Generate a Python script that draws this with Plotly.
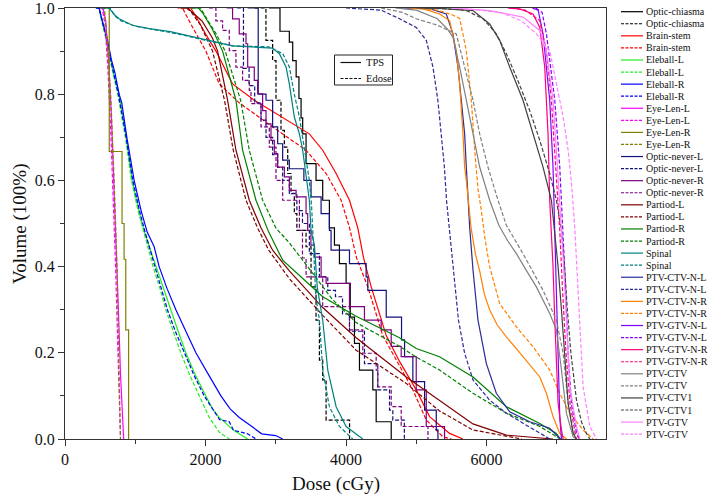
import plotly.graph_objects as go

# ---------------- data (dose in cGy, volume fraction) ----------------
names = ["Optic-chiasma", "Brain-stem", "Eleball-L", "Eleball-R", "Eye-Len-L", "Eye-Len-R",
         "Optic-never-L", "Optic-never-R", "Partiod-L", "Partiod-R", "Spinal",
         "PTV-CTV-N-L", "PTV-CTV-N-R", "PTV-GTV-N-L", "PTV-GTV-N-R", "PTV-CTV", "PTV-CTV1", "PTV-GTV"]
colors = ["#000000", "#ff0000", "#22ee22", "#0000ff", "#ff00ff", "#808000",
          "#10107a", "#800080", "#800000", "#008000", "#008080",
          "#2a2a9a", "#ff8000", "#8000ff", "#ff0080", "#808080", "#404040", "#ff80ff"]
# structures whose TPS/Edose curves are drawn as staircases
tps_steps = ["Optic-chiasma", "Optic-never-L", "Optic-never-R", "Eye-Len-R"]
edose_steps = ["Optic-chiasma", "Optic-never-L", "Optic-never-R"]

chiasma_tps_x = [2900, 3060, 3193, 3241, 3290, 3330, 3360, 3383, 3431, 3573, 3668, 3763, 3835, 3906, 4001, 4060, 4120, 4191, 4381, 4429, 4643]
chiasma_tps_y = [1.0, 0.946, 0.921, 0.878, 0.840, 0.79, 0.745, 0.708, 0.639, 0.600, 0.554, 0.49, 0.45, 0.407, 0.361, 0.283, 0.222, 0.160, 0.114, 0.040, 0.0]
chiasma_ed_x = [2700, 2860, 2955, 3003, 3074, 3122, 3170, 3217, 3264, 3300, 3431, 3502, 3573, 3621, 3668, 3716, 4050]
chiasma_ed_y = [1.0, 0.925, 0.878, 0.786, 0.716, 0.677, 0.616, 0.569, 0.523, 0.484, 0.446, 0.353, 0.276, 0.183, 0.137, 0.044, 0.0]

brain_tps_x = [1700, 1790, 1900, 2000, 2148, 2385, 2694, 3003, 3478, 3668, 3859, 4049, 4167, 4250, 4358, 4572, 4761, 4999, 5189, 5474, 5664]
brain_tps_y = [1.0, 1.0, 0.97, 0.94, 0.90, 0.824, 0.786, 0.755, 0.708, 0.67, 0.616, 0.554, 0.49, 0.42, 0.353, 0.24, 0.18, 0.114, 0.052, 0.013, 0.0]
brain_ed_x = [1600, 1672, 1800, 2005, 2195, 2480, 2955, 3431, 3716, 3930, 4050, 4150, 4310, 4523, 4951, 5142, 5379, 5500]
brain_ed_y = [1.0, 1.0, 0.96, 0.90, 0.824, 0.78, 0.724, 0.67, 0.616, 0.554, 0.49, 0.42, 0.353, 0.24, 0.114, 0.044, 0.005, 0.0]

eyeL_tps_x = [440, 485, 530, 590, 650, 700, 770, 870, 955, 1050, 1130, 1293, 1400, 1507, 1610, 1720, 1850, 2005, 2100, 2195, 2400, 2600]
eyeL_tps_y = [1.0, 1.0, 0.97, 0.93, 0.88, 0.84, 0.80, 0.70, 0.60, 0.53, 0.48, 0.40, 0.35, 0.30, 0.25, 0.20, 0.15, 0.10, 0.07, 0.05, 0.02, 0.0]
eyeL_ed_x = [440, 485, 520, 580, 640, 690, 750, 860, 945, 1040, 1120, 1254, 1350, 1435, 1540, 1649, 1770, 1910, 2000, 2053, 2200, 2338]
eyeL_ed_y = [1.0, 1.0, 0.97, 0.93, 0.88, 0.84, 0.80, 0.70, 0.60, 0.53, 0.48, 0.40, 0.35, 0.30, 0.25, 0.20, 0.15, 0.10, 0.07, 0.05, 0.015, 0.0]

eyeR_tps_x = [440, 485, 530, 600, 660, 710, 770, 808, 880, 984, 1083, 1170, 1269, 1340, 1450, 1578, 1720, 1863, 2040, 2219, 2350, 2480, 2650, 2800, 3000, 3098]
eyeR_tps_y = [1.0, 1.0, 0.97, 0.93, 0.88, 0.85, 0.80, 0.78, 0.70, 0.60, 0.53, 0.48, 0.446, 0.40, 0.35, 0.30, 0.25, 0.20, 0.15, 0.10, 0.07, 0.05, 0.03, 0.012, 0.008, 0.0]
eyeR_ed_x = [440, 485, 530, 590, 650, 700, 760, 870, 965, 1060, 1140, 1280, 1370, 1458, 1570, 1696, 1830, 1981, 2100, 2200, 2338, 2400, 2600, 2718]
eyeR_ed_y = [1.0, 1.0, 0.97, 0.93, 0.88, 0.84, 0.80, 0.70, 0.60, 0.53, 0.48, 0.40, 0.35, 0.30, 0.25, 0.20, 0.15, 0.10, 0.07, 0.045, 0.04, 0.02, 0.012, 0.0]

lensL_tps_x = [500, 540, 580, 620, 660, 700, 735, 760, 790, 815, 835]
lensL_tps_y = [1.0, 1.0, 0.97, 0.88, 0.75, 0.58, 0.45, 0.30, 0.15, 0.05, 0.0]
lensL_ed_x = [500, 530, 570, 610, 650, 690, 720, 745, 770, 790]
lensL_ed_y = [1.0, 1.0, 0.96, 0.86, 0.72, 0.55, 0.40, 0.25, 0.10, 0.0]

lensR_tps_x = [500, 630, 812, 841, 865, 905]
lensR_tps_y = [1.0, 0.667, 0.5, 0.417, 0.253, 0.0]
lensR_ed_x = [520, 560, 600, 650, 700, 740, 770, 790]
lensR_ed_y = [1.0, 1.0, 0.92, 0.80, 0.60, 0.40, 0.15, 0.0]

nerveL_tps_x = [2600, 2750, 2861, 2955, 3027, 3098, 3193, 3400, 3502, 3645, 3763, 3787, 4049, 4286, 4310, 4572, 4790, 4833, 4951, 5118, 5284, 5308]
nerveL_tps_y = [1.0, 0.80, 0.786, 0.724, 0.685, 0.647, 0.627, 0.600, 0.562, 0.523, 0.484, 0.438, 0.407, 0.376, 0.345, 0.283, 0.23, 0.191, 0.133, 0.067, 0.021, 0.0]
nerveL_ed_x = [2450, 2540, 2620, 2700, 2790, 2861, 2955, 3027, 3098, 3193, 3300, 3380, 3478, 3621, 3740, 3850, 3950, 4049, 4262, 4452, 4619, 4666, 4830]
nerveL_ed_y = [1.0, 0.86, 0.82, 0.78, 0.74, 0.70, 0.66, 0.63, 0.60, 0.57, 0.53, 0.50, 0.43, 0.376, 0.345, 0.33, 0.29, 0.25, 0.175, 0.114, 0.067, 0.044, 0.0]

nerveR_tps_x = [2300, 2385, 2480, 2576, 2600, 2694, 2742, 2813, 2861, 2932, 2979, 3027, 3122, 3193, 3289, 3431, 3454, 3500, 3550, 3645, 3716, 4049, 4262, 4500, 4643, 4785, 4999, 5142, 5402]
nerveR_tps_y = [1.0, 0.975, 0.94, 0.917, 0.863, 0.832, 0.801, 0.762, 0.731, 0.693, 0.662, 0.631, 0.608, 0.577, 0.562, 0.523, 0.484, 0.45, 0.422, 0.376, 0.361, 0.307, 0.276, 0.253, 0.215, 0.191, 0.114, 0.029, 0.0]
nerveR_ed_x = [2050, 2148, 2243, 2338, 2433, 2528, 2623, 2647, 2790, 2908, 3003, 3098, 3336, 3380, 3431, 3668, 4049, 4238, 4429, 4452, 4643, 4785, 5166]
nerveR_ed_y = [1.0, 0.97, 0.948, 0.901, 0.863, 0.832, 0.809, 0.778, 0.724, 0.677, 0.60, 0.554, 0.484, 0.42, 0.376, 0.307, 0.253, 0.199, 0.160, 0.121, 0.075, 0.029, 0.0]

parL_tps_x = [1650, 1750, 1810, 1950, 2100, 2172, 2314, 2433, 2623, 2789, 2955, 3193, 3668, 4144, 4857, 5331, 5806, 6282, 6946]
parL_tps_y = [1.0, 1.0, 0.99, 0.97, 0.93, 0.90, 0.786, 0.67, 0.554, 0.49, 0.438, 0.39, 0.305, 0.235, 0.144, 0.09, 0.035, 0.009, 0.0]
parL_ed_x = [1650, 1730, 1800, 1930, 2100, 2270, 2395, 2576, 2740, 2900, 3193, 3668, 4144, 4857, 5331, 5806, 6500]
parL_ed_y = [1.0, 1.0, 0.99, 0.96, 0.90, 0.786, 0.67, 0.554, 0.49, 0.438, 0.372, 0.287, 0.206, 0.129, 0.065, 0.021, 0.0]

parR_tps_x = [1800, 1900, 1953, 2100, 2243, 2433, 2528, 2718, 2900, 3098, 3400, 3668, 4144, 4761, 5000, 5331, 5807, 6282, 6757, 6994, 7050]
parR_tps_y = [1.0, 1.0, 0.99, 0.95, 0.90, 0.786, 0.67, 0.554, 0.48, 0.415, 0.37, 0.33, 0.285, 0.235, 0.21, 0.191, 0.144, 0.075, 0.036, 0.013, 0.0]
parR_ed_x = [1800, 1930, 2000, 2150, 2280, 2500, 2623, 2813, 3000, 3193, 3500, 3800, 4144, 4761, 5000, 5331, 5807, 6282, 6757, 7000, 7050]
parR_ed_y = [1.0, 1.0, 0.98, 0.94, 0.90, 0.786, 0.67, 0.554, 0.49, 0.455, 0.39, 0.325, 0.27, 0.215, 0.19, 0.16, 0.106, 0.06, 0.029, 0.005, 0.0]

spinal_tps_x = [520, 627, 700, 770, 959, 1197, 1500, 1910, 2385, 2955, 3051, 3146, 3193, 3264, 3336, 3383, 3431, 3478, 3502, 3550, 3590, 3668, 3740, 3859, 4001, 4238]
spinal_tps_y = [1.0, 1.0, 0.985, 0.975, 0.96, 0.952, 0.945, 0.93, 0.912, 0.907, 0.894, 0.863, 0.824, 0.747, 0.708, 0.67, 0.616, 0.554, 0.484, 0.45, 0.353, 0.276, 0.16, 0.075, 0.029, 0.0]
spinal_ed_x = [520, 640, 720, 800, 1000, 1250, 1600, 2000, 2400, 2900, 3100, 3193, 3264, 3336, 3383, 3431, 3478, 3510, 3530, 3550, 3570, 3621, 3668, 3763, 3906, 4096]
spinal_ed_y = [1.0, 1.0, 0.98, 0.97, 0.958, 0.95, 0.94, 0.925, 0.912, 0.91, 0.894, 0.863, 0.80, 0.747, 0.70, 0.65, 0.60, 0.54, 0.48, 0.40, 0.33, 0.276, 0.16, 0.075, 0.029, 0.0]

ctvnl_tps_x = [4800, 5200, 5427, 5522, 5593, 5641, 5688, 5712, 5736, 5760, 5807, 5878, 5997, 6139, 6329, 6614, 6899, 7018, 7050]
ctvnl_tps_y = [1.0, 0.998, 0.986, 0.94, 0.863, 0.786, 0.708, 0.631, 0.554, 0.49, 0.392, 0.276, 0.175, 0.106, 0.063, 0.04, 0.025, 0.005, 0.0]
ctvnl_ed_x = [4000, 4500, 4761, 4999, 5142, 5237, 5307, 5355, 5400, 5430, 5470, 5530, 5600, 5688, 5807, 6044, 6282, 6567, 6757, 6900]
ctvnl_ed_y = [1.0, 0.995, 0.975, 0.955, 0.925, 0.863, 0.786, 0.708, 0.631, 0.554, 0.49, 0.392, 0.276, 0.199, 0.137, 0.09, 0.06, 0.032, 0.013, 0.0]

ctvnr_tps_x = [4900, 5100, 5331, 5474, 5569, 5617, 5664, 5688, 5712, 5740, 5780, 5840, 5902, 5970, 6044, 6150, 6282, 6519, 6757, 6852, 6946, 7042, 7137]
ctvnr_tps_y = [1.0, 0.998, 0.986, 0.971, 0.901, 0.824, 0.708, 0.631, 0.60, 0.55, 0.49, 0.43, 0.39, 0.335, 0.30, 0.265, 0.237, 0.191, 0.144, 0.106, 0.052, 0.013, 0.0]
ctvnr_ed_x = [5000, 5300, 5500, 5617, 5712, 5783, 5831, 5878, 5926, 5973, 6044, 6187, 6425, 6662, 6899, 7042, 7185, 7374, 7517]
ctvnr_ed_y = [1.0, 0.995, 0.985, 0.976, 0.901, 0.786, 0.67, 0.58, 0.53, 0.47, 0.40, 0.314, 0.26, 0.214, 0.16, 0.106, 0.06, 0.021, 0.0]

gtvnl_tps_x = [6650, 6734, 6804, 6899, 6946, 6971, 6995, 7020, 7042, 7066]
gtvnl_tps_y = [1.0, 0.995, 0.94, 0.786, 0.631, 0.484, 0.3, 0.15, 0.05, 0.0]
gtvnl_ed_x = [6700, 6790, 6852, 6971, 7042, 7090, 7125, 7160, 7210, 7280, 7330]
gtvnl_ed_y = [1.0, 0.99, 0.94, 0.786, 0.631, 0.484, 0.35, 0.2, 0.08, 0.015, 0.0]

gtvnr_tps_x = [6300, 6472, 6662, 6757, 6828, 6875, 6899, 6923, 6946, 6971, 7018, 7066, 7090]
gtvnr_tps_y = [1.0, 0.998, 0.986, 0.955, 0.863, 0.708, 0.554, 0.484, 0.40, 0.276, 0.083, 0.021, 0.0]
gtvnr_ed_x = [6350, 6550, 6757, 6852, 6923, 6971, 7018, 7042, 7080, 7130, 7190, 7260, 7320]
gtvnr_ed_y = [1.0, 0.995, 0.971, 0.901, 0.786, 0.67, 0.554, 0.484, 0.35, 0.2, 0.08, 0.015, 0.0]

ctv_tps_x = [4700, 5000, 5300, 5450, 5522, 5617, 5712, 5807, 5902, 6044, 6175, 6300, 6425, 6570, 6709, 6899, 6994, 7066, 7137, 7232, 7280]
ctv_tps_y = [1.0, 0.995, 0.975, 0.95, 0.932, 0.863, 0.786, 0.708, 0.631, 0.554, 0.496, 0.46, 0.43, 0.39, 0.353, 0.291, 0.253, 0.16, 0.06, 0.005, 0.0]
ctv_ed_x = [4500, 4800, 4999, 5300, 5500, 5569, 5688, 5807, 5902, 6020, 6163, 6282, 6519, 6804, 6994, 7090, 7161, 7230, 7280]
ctv_ed_y = [1.0, 0.99, 0.975, 0.96, 0.945, 0.94, 0.863, 0.786, 0.708, 0.631, 0.554, 0.496, 0.43, 0.345, 0.276, 0.199, 0.083, 0.02, 0.0]

ctv1_tps_x = [5000, 5331, 5807, 6044, 6187, 6329, 6519, 6662, 6804, 6923, 6971, 7018, 7066, 7113, 7161, 7232, 7280]
ctv1_tps_y = [1.0, 0.999, 0.994, 0.963, 0.925, 0.863, 0.786, 0.708, 0.631, 0.554, 0.484, 0.40, 0.30, 0.199, 0.083, 0.013, 0.0]
ctv1_ed_x = [5200, 5700, 5950, 6139, 6282, 6425, 6614, 6757, 6899, 6994, 7066, 7110, 7150, 7200, 7280, 7350, 7422, 7470]
ctv1_ed_y = [1.0, 0.995, 0.975, 0.94, 0.894, 0.84, 0.762, 0.693, 0.616, 0.554, 0.484, 0.40, 0.30, 0.20, 0.09, 0.04, 0.013, 0.0]

gtv_tps_x = [5500, 6044, 6519, 6757, 6852, 6946, 6994, 7042, 7066, 7090, 7137, 7185, 7280, 7327]
gtv_tps_y = [1.0, 0.994, 0.979, 0.948, 0.901, 0.786, 0.67, 0.554, 0.49, 0.42, 0.276, 0.121, 0.029, 0.0]
gtv_ed_x = [5600, 6200, 6500, 6709, 6899, 6994, 7090, 7161, 7209, 7256, 7280, 7327, 7374, 7470, 7565]
gtv_ed_y = [1.0, 0.99, 0.97, 0.94, 0.901, 0.824, 0.747, 0.67, 0.593, 0.49, 0.42, 0.276, 0.121, 0.029, 0.0]

tps_series = [(chiasma_tps_x, chiasma_tps_y), (brain_tps_x, brain_tps_y), (eyeL_tps_x, eyeL_tps_y),
              (eyeR_tps_x, eyeR_tps_y), (lensL_tps_x, lensL_tps_y), (lensR_tps_x, lensR_tps_y),
              (nerveL_tps_x, nerveL_tps_y), (nerveR_tps_x, nerveR_tps_y), (parL_tps_x, parL_tps_y),
              (parR_tps_x, parR_tps_y), (spinal_tps_x, spinal_tps_y), (ctvnl_tps_x, ctvnl_tps_y),
              (ctvnr_tps_x, ctvnr_tps_y), (gtvnl_tps_x, gtvnl_tps_y), (gtvnr_tps_x, gtvnr_tps_y),
              (ctv_tps_x, ctv_tps_y), (ctv1_tps_x, ctv1_tps_y), (gtv_tps_x, gtv_tps_y)]
edose_series = [(chiasma_ed_x, chiasma_ed_y), (brain_ed_x, brain_ed_y), (eyeL_ed_x, eyeL_ed_y),
                (eyeR_ed_x, eyeR_ed_y), (lensL_ed_x, lensL_ed_y), (lensR_ed_x, lensR_ed_y),
                (nerveL_ed_x, nerveL_ed_y), (nerveR_ed_x, nerveR_ed_y), (parL_ed_x, parL_ed_y),
                (parR_ed_x, parR_ed_y), (spinal_ed_x, spinal_ed_y), (ctvnl_ed_x, ctvnl_ed_y),
                (ctvnr_ed_x, ctvnr_ed_y), (gtvnl_ed_x, gtvnl_ed_y), (gtvnr_ed_x, gtvnr_ed_y),
                (ctv_ed_x, ctv_ed_y), (ctv1_ed_x, ctv1_ed_y), (gtv_ed_x, gtv_ed_y)]

x_ticks = [0, 2000, 4000, 6000]
y_ticks = [0.0, 0.2, 0.4, 0.6, 0.8, 1.0]
method_labels = ["TPS", "Edose"]

# ---------------- figure ----------------
W, H = 709, 496
L, R, T, B = 65, 103, 8, 57
PW, PH = W - L - R, H - T - B
FONT = "Liberation Serif"
DASH = "4px,2px"


def px_x(px):
    return (px - L) / PW


def px_y(py):
    return (H - B - py) / PH


fig = go.Figure()
for i, name in enumerate(names):
    for (xs, ys), dash, steps in ((tps_series[i], "solid", tps_steps), (edose_series[i], DASH, edose_steps)):
        fig.add_trace(go.Scatter(x=xs, y=ys, mode="lines", name=name, showlegend=False,
                                 line=dict(color=colors[i], width=1.2, dash=dash,
                                           shape="hv" if name in steps else "linear"),
                                 hoverinfo="skip"))

shapes = []
annotations = []
# right-side legend
y0, dy = 11.7, 12.07
k = 0
for i, name in enumerate(names):
    for dash in ("solid", "dash"):
        yc = y0 + k * dy
        shapes.append(dict(type="line", xref="paper", yref="paper",
                           x0=px_x(621), x1=px_x(643), y0=px_y(yc), y1=px_y(yc),
                           line=dict(color=colors[i], width=1.2,
                                     dash="solid" if dash == "solid" else "3px,1.5px")))
        annotations.append(dict(text=name, xref="paper", yref="paper", x=px_x(644), y=px_y(yc),
                                xanchor="left", yanchor="middle", showarrow=False,
                                font=dict(family=FONT, size=10, color="#111")))
        k += 1

# inset TPS / Edose legend
shapes.append(dict(type="rect", xref="paper", yref="paper", x0=px_x(334.5), x1=px_x(392.5),
                   y0=px_y(85), y1=px_y(55), line=dict(color="#222", width=1), fillcolor="white"))
for j, lab in enumerate(method_labels):
    yc = 62.5 + j * 16
    shapes.append(dict(type="line", xref="paper", yref="paper", x0=px_x(340.5), x1=px_x(361),
                       y0=px_y(yc), y1=px_y(yc),
                       line=dict(color="#111", width=1.2, dash="solid" if j == 0 else "3px,1.5px")))
    annotations.append(dict(text=lab, xref="paper", yref="paper", x=px_x(364), y=px_y(yc),
                            xanchor="left", yanchor="middle", showarrow=False,
                            font=dict(family=FONT, size=10.5, color="#111")))

# axis titles
annotations.append(dict(text="Dose (cGy)", xref="paper", yref="paper", x=px_x(336), y=px_y(484),
                        xanchor="center", yanchor="middle", showarrow=False,
                        font=dict(family=FONT, size=19, color="#111")))
annotations.append(dict(text="Volume (100%)", xref="paper", yref="paper", x=px_x(20), y=px_y(224),
                        xanchor="center", yanchor="middle", showarrow=False, textangle=-90,
                        font=dict(family=FONT, size=19, color="#111")))

axis_common = dict(showline=True, mirror=True, linecolor="#333", linewidth=1, ticks="outside",
                   tickcolor="#333", tickwidth=1, ticklen=6, showgrid=False, zeroline=False,
                   automargin=False, ticklabeloverflow="allow",
                   tickfont=dict(family=FONT, size=16, color="#111"))
fig.update_layout(
    width=W, height=H, margin=dict(l=L, r=R, t=T, b=B, autoexpand=False),
    plot_bgcolor="white", paper_bgcolor="white", showlegend=False,
    shapes=shapes, annotations=annotations,
    xaxis=dict(range=[0, 7700], tickvals=x_ticks, ticktext=[str(v) for v in x_ticks],
               minor=dict(dtick=1000, ticklen=4, ticks="outside", tickcolor="#333"),
               **axis_common),
    yaxis=dict(range=[0, 1], tickvals=y_ticks, ticktext=[f"{v:.1f}" for v in y_ticks],
               minor=dict(dtick=0.1, ticklen=4, ticks="outside", tickcolor="#333"),
               **axis_common),
)
fig.write_html("out.html", config={"displayModeBar": False},
               post_script="document.body.style.margin='0';document.body.style.overflow='hidden';")
